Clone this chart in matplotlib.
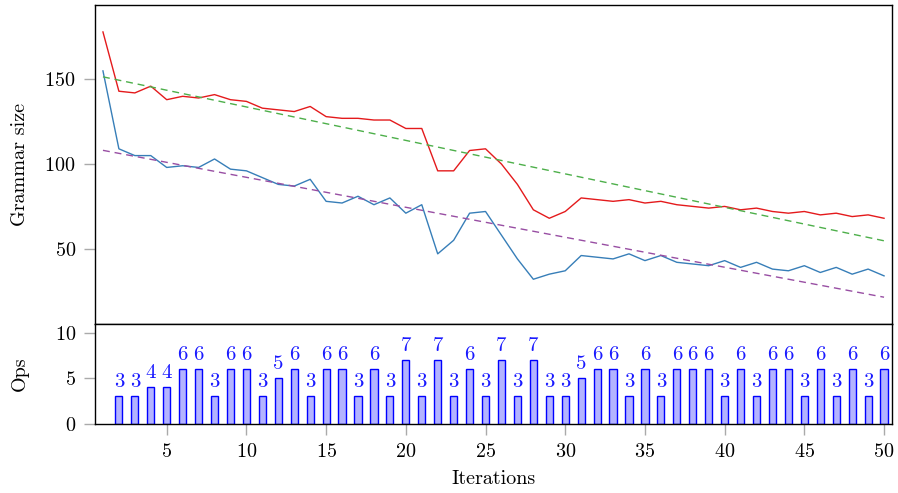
import numpy as np
import matplotlib
matplotlib.use("Agg")
import matplotlib.pyplot as plt

# grammar size per iteration
iterations = list(range(1, 51))
size_red = [178, 143, 142, 146, 138, 140, 139, 141, 138, 137,
            133, 132, 131, 134, 128, 127, 127, 126, 126, 121,
            121, 96, 96, 108, 109, 100, 88, 73, 68, 72,
            80, 79, 78, 79, 77, 78, 76, 75, 74, 75,
            73, 74, 72, 71, 72, 70, 71, 69, 70, 68]
size_blue = [155, 109, 105, 105, 98, 99, 98, 103, 97, 96,
             92, 88, 87, 91, 78, 77, 81, 76, 80, 71,
             76, 47, 55, 71, 72, 58, 44, 32, 35, 37,
             46, 45, 44, 47, 43, 46, 42, 41, 40, 43,
             39, 42, 38, 37, 40, 36, 39, 35, 38, 34]

# trend lines (end points)
trend_x = [1, 50]
trend_red = [151.5, 54.7]
trend_blue = [108.1, 21.4]

# ops per iteration (starting at iteration 2)
ops_iter = list(range(2, 51))
ops = [3, 3, 4, 4, 6, 6, 3, 6, 6, 3, 5, 6, 3, 6, 6, 3, 6, 3, 7, 3,
       7, 3, 6, 3, 7, 3, 7, 3, 3, 5, 6, 6, 3, 6, 3, 6, 6, 6, 3, 6,
       3, 6, 6, 3, 6, 3, 6, 3, 6]

plt.rcParams['font.family'] = ['cmr10', 'DejaVu Serif']
plt.rcParams['axes.formatter.use_mathtext'] = True
plt.rcParams['font.size'] = 14.5

W, H = 898, 493
fig = plt.figure(figsize=(W / 100, H / 100), dpi=100)

left, right = 95.3 / W, 891.7 / W
ax1 = fig.add_axes([left, 1 - 323.8 / H, right - left, (323.8 - 5) / H])
ax2 = fig.add_axes([left, 1 - 423.7 / H, right - left, (423.7 - 323.8) / H], sharex=ax1)

dash = (5, 3.5)
ax1.plot(iterations, size_red, color='#e41a1c', lw=1.0)
ax1.plot(iterations, size_blue, color='#377eb8', lw=1.0)
ax1.plot(trend_x, trend_red, color='#4daf4a', lw=1.0, dashes=dash)
ax1.plot(trend_x, trend_blue, color='#984ea3', lw=1.0, dashes=dash)

ax1.set_ylim(5.7, 193.9)
ax1.set_yticks([50, 100, 150])
ax1.set_xlim(0.52, 50.48)
ax1.tick_params(axis='x', labelbottom=False)

ax2.bar(ops_iter, ops, width=0.45, color='#b3b3ff', edgecolor='#0000ff', lw=1.0)
for x, v in zip(ops_iter, ops):
    ax2.annotate(str(v), (x, v), xytext=(0, 4), textcoords='offset points',
                 ha='center', va='bottom', color='#1a1aff', fontsize=15)
ax2.set_ylim(0, 11)
ax2.set_yticks([0, 5, 10])
ax2.set_xticks(range(5, 51, 5))

for ax in (ax1, ax2):
    for s in ax.spines.values():
        s.set_color('black')
        s.set_linewidth(1.0)
    ax.tick_params(direction='out', length=8, width=1, color='#aaaaaa', pad=6)

ax1.set_ylabel('Grammar size', rotation=90, ha='center', va='center')
ax2.set_ylabel('Ops', rotation=90, ha='center', va='center')
ax1.yaxis.set_label_coords(-0.0945, 0.5)
ax2.yaxis.set_label_coords(-0.0945, 0.5)
ax2.set_xlabel('Iterations')
ax2.xaxis.set_label_coords(0.5, -(479 - 423.7) / (423.7 - 323.8))
ax2.xaxis.label.set_va('center')

fig.savefig('out.png', dpi=100)
